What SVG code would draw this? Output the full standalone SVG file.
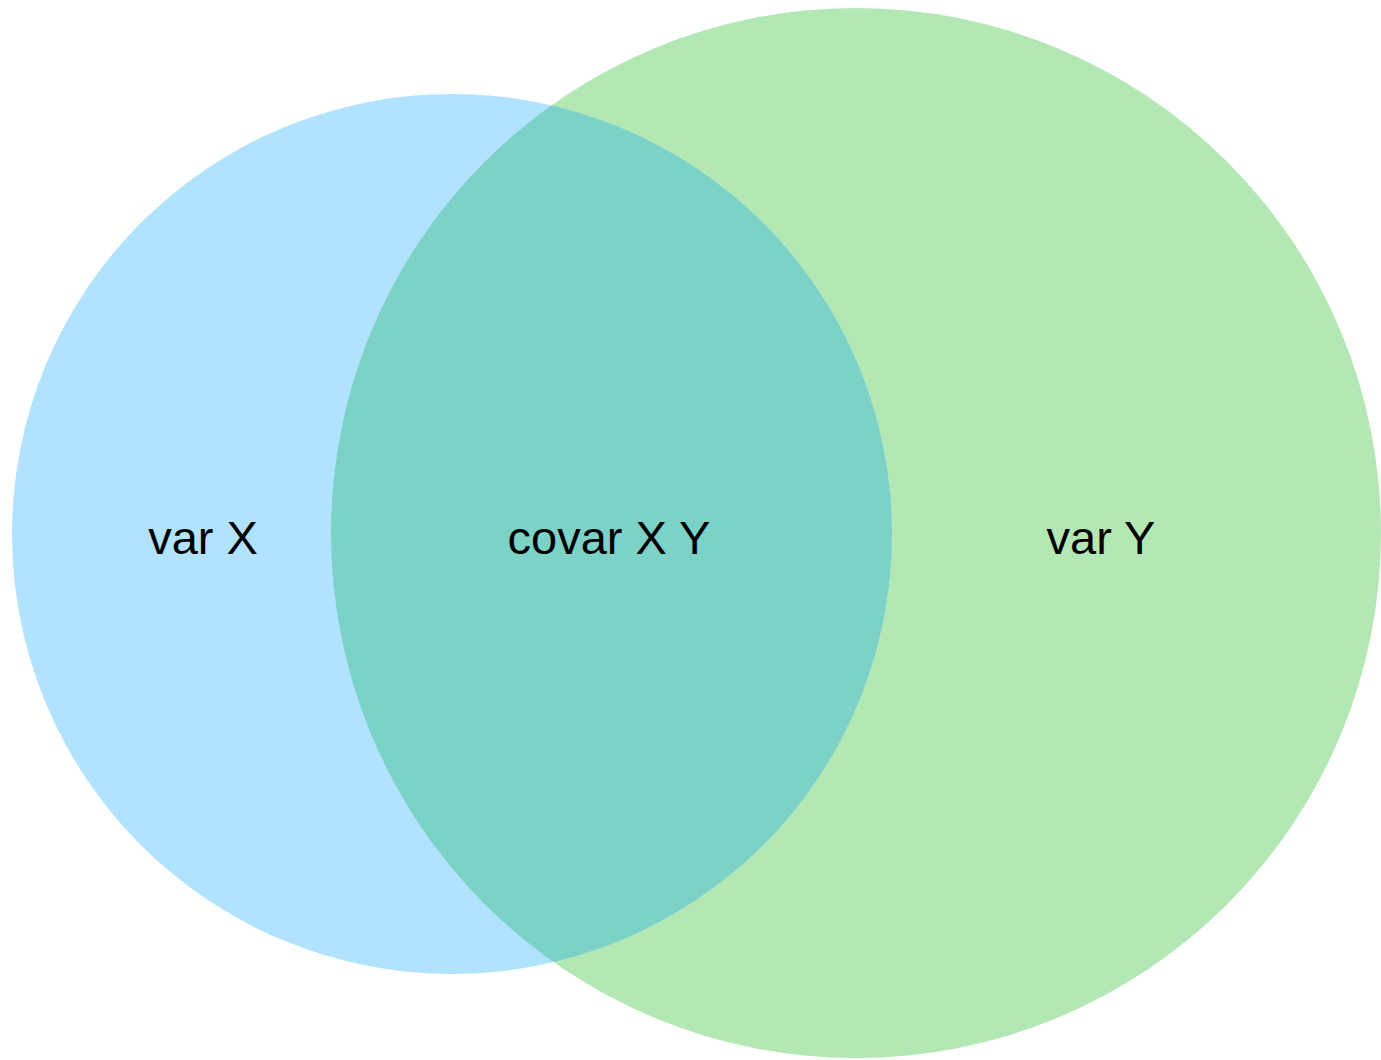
<svg xmlns="http://www.w3.org/2000/svg" width="1381" height="1060" viewBox="0 0 1381 1060">
<style>
.lbl{font-family:"Liberation Sans",Arial,sans-serif;font-size:47px;fill:#000;text-anchor:middle}
</style>
<defs>
<clipPath id="clipX"><circle cx="452" cy="534" r="440"/></clipPath>
</defs>
<rect width="1381" height="1060" fill="#fff"/>
<g id="setY"><circle cx="856" cy="533" r="525" fill="#b3e8b5"/></g>
<g id="setX"><circle cx="452" cy="534" r="440" fill="#b2e3fe"/></g>
<g id="overlap"><circle cx="856" cy="533" r="525" fill="#7dd2c8" clip-path="url(#clipX)"/></g>
<g id="connectors"></g>
<g id="labels">
<text class="lbl" x="203" y="554">var X</text>
<text class="lbl" x="609" y="554">covar X Y</text>
<text class="lbl" x="1101" y="554">var Y</text>
</g>
</svg>
